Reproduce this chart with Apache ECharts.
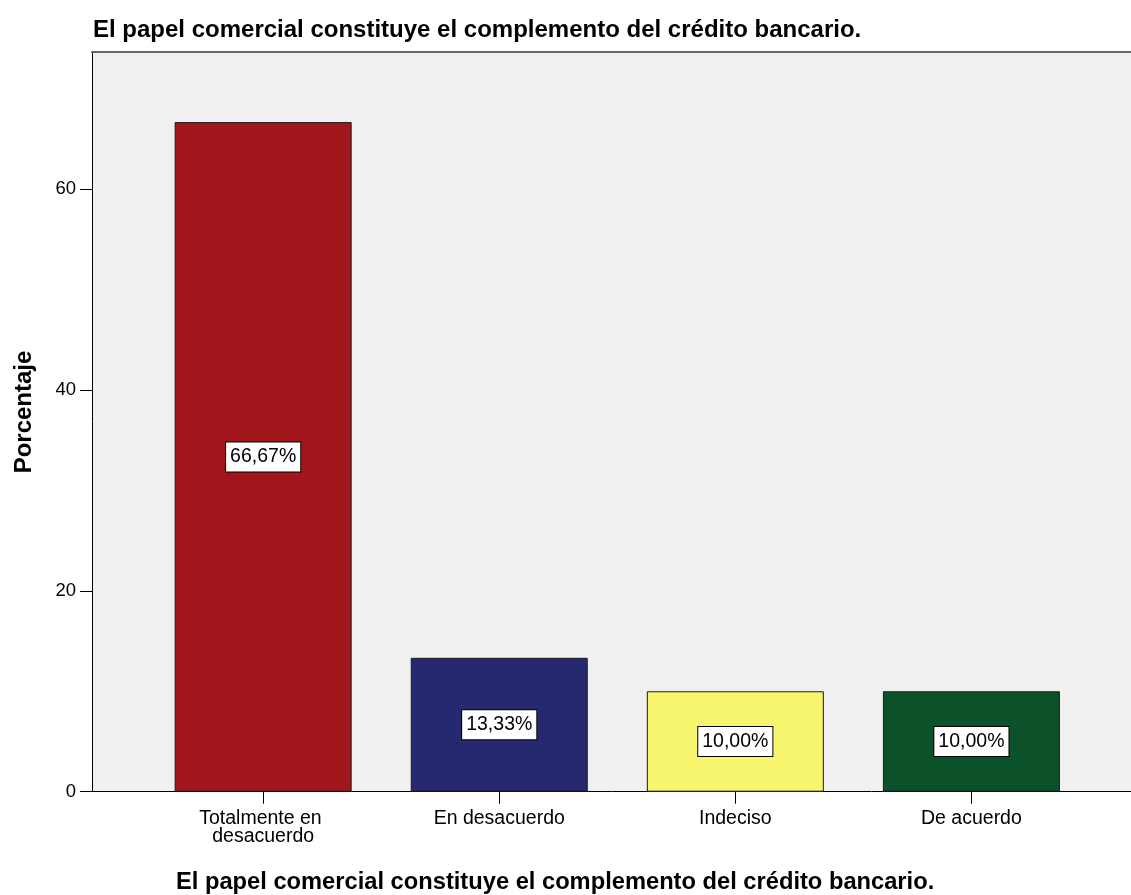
<!DOCTYPE html>
<html>
<head>
<meta charset="utf-8">
<script src="https://cdn.jsdelivr.net/npm/echarts@6/dist/echarts.min.js"></script>
<style>
  html, body { margin: 0; padding: 0; background: #ffffff; }
  #chart { width: 1131px; height: 895px; }
</style>
</head>
<body>
<div id="chart"></div>
<script>
// Chart content
const chartTitle = 'El papel comercial constituye el complemento del crédito bancario.';
const axisTitle = 'El papel comercial constituye el complemento del crédito bancario.';
const yAxisTitle = 'Porcentaje';
const categories = ['Totalmente en desacuerdo', 'En desacuerdo', 'Indeciso', 'De acuerdo'];
const percentages = [66.67, 13.33, 10.00, 10.00];
const barColors = ['#A0161A', '#272970', '#F8F56F', '#0B522A'];
const yTicks = [0, 20, 40, 60];

const positions = categories.map((_, i) => i);
const fmtPct = v => v.toFixed(2).replace('.', ',') + '%';
const FONT = '"Liberation Sans", Arial, sans-serif';

const chart = echarts.init(document.getElementById('chart'), null, { renderer: 'canvas' });

chart.setOption({
  backgroundColor: '#ffffff',
  animation: false,
  title: [
    {
      text: chartTitle,
      left: 88, top: 13,
      textStyle: { fontFamily: FONT, fontSize: 24, fontWeight: 'bold', color: '#000' }
    },
    {
      text: axisTitle,
      left: 171, top: 865,
      textStyle: { fontFamily: FONT, fontSize: 23.7, fontWeight: 'bold', color: '#000' }
    }
  ],
  // rotated y-axis title
  graphic: [{
    type: 'text',
    x: 24, y: 412,
    rotation: Math.PI / 2,
    style: {
      text: yAxisTitle,
      font: 'bold 24px "Liberation Sans", Arial, sans-serif',
      fill: '#000',
      align: 'center',
      verticalAlign: 'middle'
    }
  }],
  grid: {
    left: 92, top: 51.5, right: 0, bottom: 103.3,
    show: true, backgroundColor: '#F0F0F0', borderWidth: 0,
    containLabel: false
  },
  xAxis: [
    {
      type: 'value',
      min: -0.725, max: 3.676,
      axisLine: { show: true, onZero: false, lineStyle: { color: '#000', width: 1 } },
      axisTick: { show: true, length: 12, customValues: positions, lineStyle: { color: '#000' } },
      splitLine: { show: false },
      axisLabel: {
        customValues: positions,
        margin: 18,
        fontFamily: FONT, fontSize: 19.5, color: '#000', lineHeight: 18,
        width: 170, overflow: 'break',
        formatter: v => categories[Math.round(v)] || ''
      }
    },
    {
      // top frame of the plot area
      type: 'value', position: 'top',
      min: -0.725, max: 3.676,
      axisLine: { show: true, onZero: false, lineStyle: { color: '#666', width: 2 } },
      axisTick: { show: false }, axisLabel: { show: false }, splitLine: { show: false }
    }
  ],
  yAxis: {
    type: 'value',
    min: 0, max: 73.7,
    axisLine: { show: true, onZero: false, lineStyle: { color: '#000', width: 1 } },
    axisTick: { show: true, length: 12, customValues: yTicks, lineStyle: { color: '#000' } },
    splitLine: { show: false },
    axisLabel: {
      customValues: yTicks,
      margin: 16,
      fontFamily: FONT, fontSize: 18.5, color: '#000'
    }
  },
  series: [{
    type: 'bar',
    xAxisIndex: 0,
    barWidth: 177,
    data: percentages.map((v, i) => ({
      value: [positions[i], v],
      itemStyle: { color: barColors[i], borderColor: '#1a1a1a', borderWidth: 1 }
    })),
    label: {
      show: true,
      position: 'inside',
      formatter: p => fmtPct(p.value[1]),
      fontFamily: FONT, fontSize: 19.5, color: '#000',
      backgroundColor: '#ffffff',
      borderColor: '#000', borderWidth: 1,
      padding: [5, 4, 4, 4]
    }
  }]
});
</script>
</body>
</html>
